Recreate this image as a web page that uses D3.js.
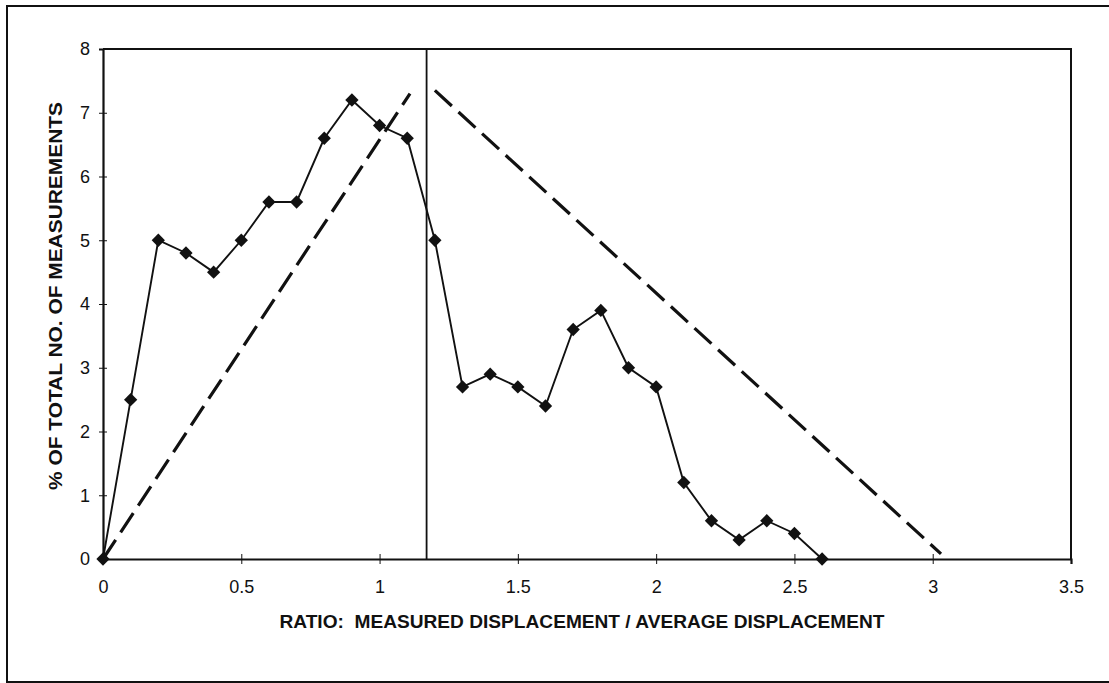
<!DOCTYPE html>
<html>
<head>
<meta charset="utf-8">
<script src="https://cdn.jsdelivr.net/npm/d3@7"></script>
<style>
  html, body { margin: 0; padding: 0; background: #fff; }
  svg { display: block; }
  text { font-family: "Liberation Sans", Arial, sans-serif; fill: #111; }
</style>
</head>
<body>
<svg id="chart" width="1109" height="683"></svg>
<script>
// ---- data ----
const ratio = [0, 0.1, 0.2, 0.3, 0.4, 0.5, 0.6, 0.7, 0.8, 0.9, 1.0, 1.1, 1.2, 1.3,
               1.4, 1.5, 1.6, 1.7, 1.8, 1.9, 2.0, 2.1, 2.2, 2.3, 2.4, 2.5, 2.6];
const percent = [0, 2.5, 5.0, 4.8, 4.5, 5.0, 5.6, 5.6, 6.6, 7.2, 6.8, 6.6, 5.0, 2.7,
                 2.9, 2.7, 2.4, 3.6, 3.9, 3.0, 2.7, 1.2, 0.6, 0.3, 0.6, 0.4, 0];
const riseLine = [[0, 0], [1.11, 7.3]];
const fallLine = [[1.2, 7.35], [3.03, 0.08]];
const dividerX = 1.17;
const xTicks = [0, 0.5, 1, 1.5, 2, 2.5, 3, 3.5];
const yTicks = [0, 1, 2, 3, 4, 5, 6, 7, 8];
const xTitle = "RATIO:  MEASURED DISPLACEMENT / AVERAGE DISPLACEMENT";
const yTitle = "% OF TOTAL NO. OF MEASUREMENTS";

// ---- layout ----
const svg = d3.select("#chart");
const L = 103, R = 1071, T = 49, B = 559;
const x = d3.scaleLinear().domain([0, 3.5]).range([L, R]);
const y = d3.scaleLinear().domain([0, 8]).range([B, T]);

// outer frame
svg.append("rect").attr("x", 7).attr("y", 6).attr("width", 1120).attr("height", 676)
  .attr("fill", "none").attr("stroke", "#111").attr("stroke-width", 2);

// plot box (top + right)
svg.append("path")
  .attr("d", `M${L},${T}H${R}V${B}`)
  .attr("fill", "none").attr("stroke", "#111").attr("stroke-width", 2);

// axes
const gx = svg.append("g").attr("transform", `translate(0,${B})`)
  .call(d3.axisBottom(x).tickValues(xTicks).tickSize(5).tickPadding(16)
        .tickFormat(d3.format("~g")));
gx.selectAll(".tick line").attr("y1", -5).attr("y2", 5).attr("stroke-width", 1);
gx.select(".domain").attr("stroke-width", 2.2);

const gy = svg.append("g").attr("transform", `translate(${L},0)`)
  .call(d3.axisLeft(y).tickValues(yTicks).tickSize(4).tickPadding(9));
gy.selectAll(".tick line").attr("x1", 4).attr("x2", -4).attr("stroke-width", 1);
gy.select(".domain").attr("stroke-width", 2.2);

svg.selectAll(".tick text").attr("font-size", 18)
  .attr("font-family", "'Liberation Sans', Arial, sans-serif").attr("fill", "#111");
svg.selectAll(".domain, .tick line").attr("stroke", "#111");

// divider line
svg.append("line")
  .attr("x1", x(dividerX)).attr("x2", x(dividerX))
  .attr("y1", y(8)).attr("y2", y(0))
  .attr("stroke", "#111").attr("stroke-width", 1.8);

// dashed lines
const lineGen = d3.line().x(d => x(d[0])).y(d => y(d[1]));
[riseLine, fallLine].forEach(seg => {
  svg.append("path").attr("d", lineGen(seg))
    .attr("fill", "none").attr("stroke", "#111").attr("stroke-width", 3.2)
    .attr("stroke-dasharray", "23,9");
});

// data line
const pts = ratio.map((r, i) => [r, percent[i]]);
svg.append("path").attr("d", lineGen(pts))
  .attr("fill", "none").attr("stroke", "#111").attr("stroke-width", 1.9);

// diamond markers
const diamond = d3.symbol().type(d3.symbolSquare).size(88);
svg.append("g").selectAll("path").data(pts).join("path")
  .attr("d", diamond)
  .attr("transform", d => `translate(${x(d[0])},${y(d[1])}) rotate(45)`)
  .attr("fill", "#111");

// titles
svg.append("text")
  .attr("x", 582).attr("y", 628)
  .attr("text-anchor", "middle")
  .attr("font-size", 18).attr("font-weight", "bold")
  .style("white-space", "pre")
  .attr("textLength", 605).attr("lengthAdjust", "spacingAndGlyphs")
  .text(xTitle);

svg.append("text")
  .attr("transform", "translate(62,296) rotate(-90)")
  .attr("text-anchor", "middle")
  .attr("font-size", 18).attr("font-weight", "bold")
  .attr("textLength", 388).attr("lengthAdjust", "spacingAndGlyphs")
  .text(yTitle);
</script>
</body>
</html>
